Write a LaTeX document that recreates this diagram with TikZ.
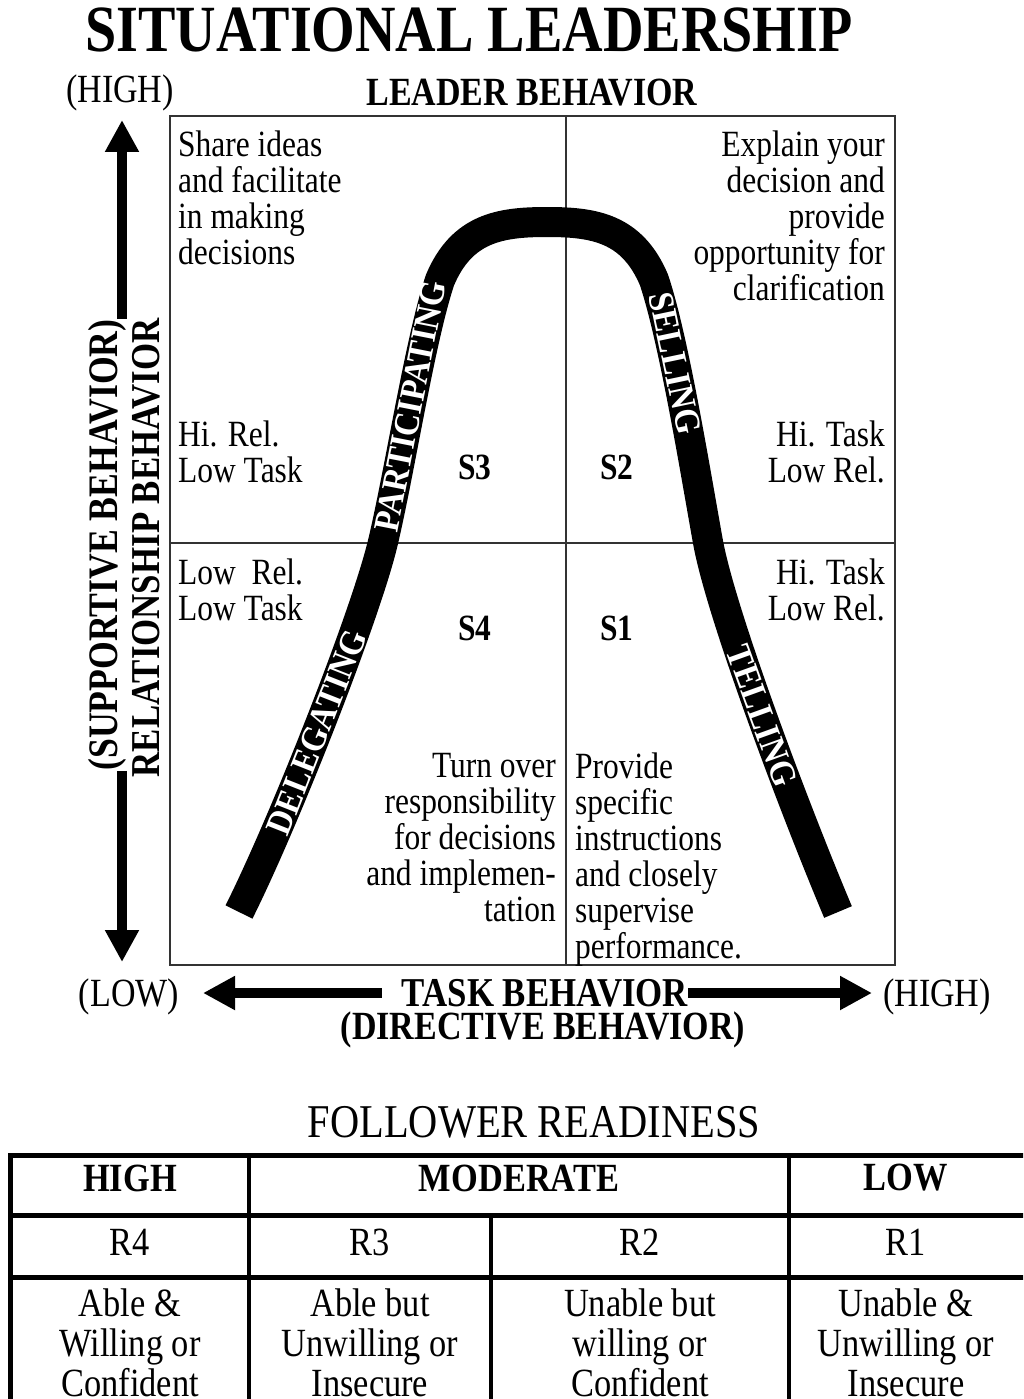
\documentclass[tikz,border=0pt]{standalone}
\usepackage{fontspec}
\setmainfont{Liberation Serif}[FakeStretch=0.85]
\newfontfamily\bandfont{Liberation Serif}[FakeStretch=0.9]
\newfontfamily\tabfont{Liberation Serif}[FakeStretch=0.86]
\usetikzlibrary{arrows.meta,positioning}

\tikzset{
  quadtxt/.style={inner sep=0pt, font=\fontsize{37}{36}\selectfont},
  headlbl/.style={inner sep=0pt, font=\bfseries\fontsize{40}{44}\selectfont},
  axislbl/.style={inner sep=0pt, font=\fontsize{40}{44}\selectfont},
  axisarrow/.style={line width=10pt, -{Triangle[length=32pt,width=32pt]}},
  band/.style={line width=30pt},
  bandlbl/.style={sloped, text=white, inner sep=0pt, font=\bandfont\bfseries\fontsize{36}{36}\selectfont},
  boxline/.style={line width=2.5pt, black!80},
  tabrule/.style={line width=5pt},
  tabcol/.style={line width=4pt},
  tabhead/.style={inner sep=0pt, font=\tabfont\bfseries\fontsize{40}{40}\selectfont},
  tabcell/.style={inner sep=0pt, align=center, font=\tabfont\fontsize{40}{40}\selectfont},
}

\begin{document}
\begin{tikzpicture}[x=1pt, y=-1pt]
    \fill[white] (0,0) rectangle (1023,1399);
    \useasboundingbox (0,0) rectangle (1023,1399);
    \clip (0,0) rectangle (1023,1399);

    % titles
    \node[headlbl, font=\bfseries\fontsize{66}{70}\selectfont] (title) at (469,30) {SITUATIONAL LEADERSHIP};
    \node[axislbl] (yhigh) at (120,93) {(HIGH)};
    \node[headlbl] (leader) at (532,93) {LEADER BEHAVIOR};

    % quadrant box
    \draw[boxline] (170,116) rectangle (895,965);
    \draw[boxline, line width=2pt] (566,116) -- (566,965);
    \draw[boxline, line width=2pt] (170,543) -- (895,543);

    % quadrant texts
    \node[quadtxt, anchor=north west, align=left] (share) at (178,131) {Share ideas\\and facilitate\\in making\\decisions};
    \node[quadtxt, anchor=north east, align=right] (explain) at (885,131) {Explain your\\decision and\\provide\\opportunity for\\clarification};
    \node[quadtxt, anchor=north west, align=left] (hirel) at (178,421) {Hi. Rel.\\Low Task};
    \node[quadtxt, anchor=north east, align=right] (hitask) at (885,421) {Hi. Task\\Low Rel.};
    \node[quadtxt, anchor=north west, align=left] (lowrel) at (178,559) {Low\ \ Rel.\\Low Task};
    \node[quadtxt, anchor=north east, align=right] (hitaskb) at (885,559) {Hi. Task\\Low Rel.};
    \node[quadtxt, font=\bfseries\fontsize{37}{36}\selectfont] (s3) at (475,467) {S3};
    \node[quadtxt, font=\bfseries\fontsize{37}{36}\selectfont] (s2) at (617,467) {S2};
    \node[quadtxt, font=\bfseries\fontsize{37}{36}\selectfont] (s4) at (475,628) {S4};
    \node[quadtxt, font=\bfseries\fontsize{37}{36}\selectfont] (s1) at (617,628) {S1};
    \node[quadtxt, anchor=north east, align=right] (turn) at (556,753) {Turn over\\responsibility\\for decisions\\and implemen-\\tation};
    \node[quadtxt, anchor=north west, align=left] (provide) at (575,753) {Provide\\specific\\instructions\\and closely\\supervise\\performance.};

    % the curve
    \draw[band] (239,912) .. controls (285,820) and (366,614) .. (383,542) node[bandlbl, pos=0.47] (dlg) {DELEGATING}
      .. controls (400,470) and (420,340) .. (440,280) node[bandlbl, pos=0.5] (prt) {PARTICIPATING}
      .. controls (462,228) and (500,222) .. (547,222)
      .. controls (594,222) and (632,228) .. (654,280)
      .. controls (674,340) and (695,470) .. (708,542) node[bandlbl, pos=0.35] (sll) {SELLING}
      .. controls (721,614) and (795,810) .. (838,912) node[bandlbl, pos=0.5] (tll) {TELLING};

    % vertical axis
    \node[headlbl, rotate=90, font=\bfseries\fontsize{42}{44}\selectfont] (sup) at (107,545) {(SUPPORTIVE BEHAVIOR)};
    \node[headlbl, rotate=90, font=\bfseries\fontsize{41}{44}\selectfont] (rel) at (146,548) {RELATIONSHIP BEHAVIOR};
    \coordinate (vhigh) at (122,120);
    \coordinate (vlow) at (122,962);
    \draw[axisarrow] (sup.east -| vhigh) -- (vhigh);
    \draw[axisarrow] (sup.west -| vlow) -- (vlow);

    % horizontal axis
    \node[headlbl, font=\bfseries\fontsize{41}{44}\selectfont] (task) at (545,993) {TASK BEHAVIOR};
    \node[headlbl] (directive) at (543,1030) {(DIRECTIVE BEHAVIOR)};
    \node[axislbl] (xlow) at (129,997) {(LOW)};
    \node[axislbl] (xhigh) at (937,997) {(HIGH)};
    \coordinate (hlow) at (203,993);
    \coordinate (hhigh) at (872,993);
    \draw[axisarrow, shorten <=20pt] (task.west) -- (hlow);
    \draw[axisarrow] (task.east) -- (hhigh);

    % follower readiness table
    \node[tabcell, font=\tabfont\fontsize{47}{48}\selectfont] (ready) at (534,1122) {FOLLOWER READINESS};
    \draw[tabrule] (8,1155) -- (1030,1155);
    \draw[tabrule] (8,1215) -- (1030,1215);
    \draw[tabrule] (8,1277) -- (1030,1277);
    \draw[tabcol, line width=5pt] (10,1153) -- (10,1410);
    \draw[tabcol] (249,1153) -- (249,1410);
    \draw[tabcol] (491,1215) -- (491,1410);
    \draw[tabcol] (789,1153) -- (789,1410);
    \node[tabhead] (high) at (130,1178) {HIGH};
    \node[tabhead] (moderate) at (519,1178) {MODERATE};
    \node[tabhead] (low) at (906,1178) {LOW};
    \node[tabcell] (r4) at (130,1242) {R4};
    \node[tabcell] (r3) at (370,1242) {R3};
    \node[tabcell] (r2) at (640,1242) {R2};
    \node[tabcell] (r1) at (906,1242) {R1};
    \node[tabcell, anchor=north] (d4) at (130,1289) {Able \&\\Willing or\\Confident};
    \node[tabcell, anchor=north] (d3) at (370,1289) {Able but\\Unwilling or\\Insecure};
    \node[tabcell, anchor=north] (d2) at (640,1289) {Unable but\\willing or\\Confident};
    \node[tabcell, anchor=north] (d1) at (906,1289) {Unable \&\\Unwilling or\\Insecure};
\end{tikzpicture}
\end{document}
